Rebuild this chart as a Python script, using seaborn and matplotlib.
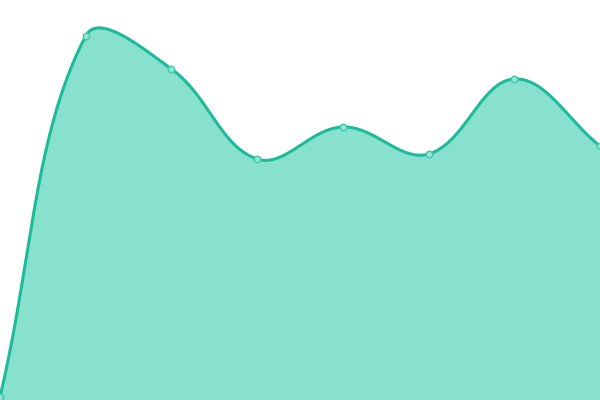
import numpy as np
import pandas as pd
import matplotlib
matplotlib.use("Agg")
import matplotlib.pyplot as plt
import seaborn as sns

categories = ["A", "B", "C", "D", "E", "F", "G", "H"]
values = [3, 364, 331, 241, 273, 246, 321, 254]

LINE = "#1dbb99"
FILL = "#88e0cf"


def smooth_path(xs, ys, smooth=0.5, n=40):
    """ECharts-like bezier smoothing of a polyline (rendering only)."""
    pts = np.column_stack([xs, ys]).astype(float)
    m = len(pts)
    cps = []
    for i in range(m):
        p = pts[i]
        prev = pts[i - 1] if i > 0 else p
        nxt = pts[i + 1] if i < m - 1 else p
        v = nxt - prev
        l0 = np.hypot(*(p - prev))
        l1 = np.hypot(*(nxt - p))
        r = l1 / (l0 + l1) if (l0 + l1) > 0 else 0.5
        cin = p - v * smooth * (1 - r)
        cout = p + v * smooth * r
        if i == 0:
            cin = p
        if i == m - 1:
            cout = p
        cps.append((cin, cout))
    out = []
    t = np.linspace(0, 1, n)[:, None]
    for i in range(m - 1):
        p0 = pts[i]; p3 = pts[i + 1]
        p1 = cps[i][1]; p2 = cps[i + 1][0]
        seg = ((1 - t) ** 3) * p0 + 3 * ((1 - t) ** 2) * t * p1 + 3 * (1 - t) * t ** 2 * p2 + t ** 3 * p3
        out.append(seg if i == 0 else seg[1:])
    out = np.vstack(out)
    return out[:, 0], out[:, 1]


xpos = np.arange(len(categories)) * (600 / 7)
sx, sy = smooth_path(xpos, np.array(values, dtype=float), smooth=0.38)

fig = plt.figure(figsize=(6, 4), dpi=100)
ax = fig.add_axes([0, 0, 1, 1])

ax.fill_between(sx, sy, 0, color=FILL, linewidth=0, zorder=1)
curve = pd.DataFrame({"x": sx, "y": sy})
sns.lineplot(data=curve, x="x", y="y", sort=False, color=LINE, linewidth=2.2, ax=ax, zorder=2)
pts = pd.DataFrame({"x": xpos, "y": values, "cat": categories})
sns.scatterplot(data=pts, x="x", y="y", s=22, color="#93e4d4", edgecolor="#45c7a9",
                linewidth=1.0, ax=ax, zorder=3, clip_on=False)
ax.set_xlim(0, 600)
ax.set_ylim(0, 400)
ax.axis("off")

fig.savefig("out.png", dpi=100)
